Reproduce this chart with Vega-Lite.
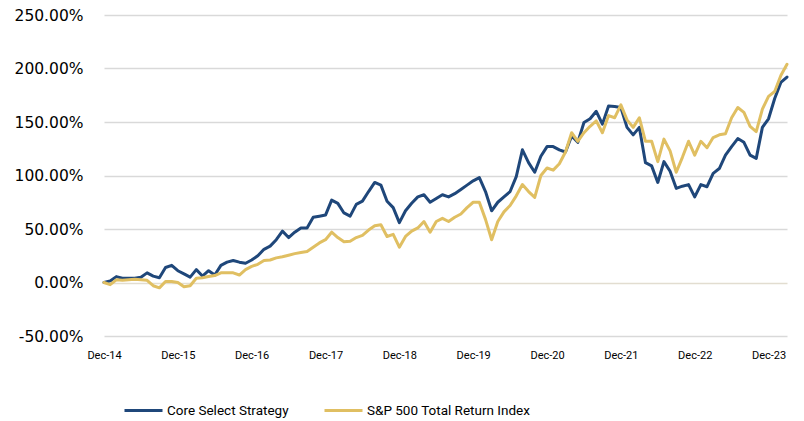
{
  "$schema": "https://vega.github.io/schema/vega-lite/v6.json",
  "width": 683,
  "height": 321,
  "autosize": {"type": "none"},
  "padding": {"left": 104, "top": 15, "right": 17, "bottom": 85},
  "background": "white",
  "config": {"view": {"stroke": null}},
  "data": {"values": [
    {"month": "Dec-14", "Core Select Strategy": 0, "S&P 500 Total Return Index": 0},
    {"month": "Jan-15", "Core Select Strategy": 1.5, "S&P 500 Total Return Index": -2},
    {"month": "Feb-15", "Core Select Strategy": 5.5, "S&P 500 Total Return Index": 2.5},
    {"month": "Mar-15", "Core Select Strategy": 4, "S&P 500 Total Return Index": 2},
    {"month": "Apr-15", "Core Select Strategy": 4, "S&P 500 Total Return Index": 2.5},
    {"month": "May-15", "Core Select Strategy": 4, "S&P 500 Total Return Index": 3},
    {"month": "Jun-15", "Core Select Strategy": 5, "S&P 500 Total Return Index": 2.5},
    {"month": "Jul-15", "Core Select Strategy": 9, "S&P 500 Total Return Index": 2},
    {"month": "Aug-15", "Core Select Strategy": 6, "S&P 500 Total Return Index": -3},
    {"month": "Sep-15", "Core Select Strategy": 4.5, "S&P 500 Total Return Index": -5},
    {"month": "Oct-15", "Core Select Strategy": 14, "S&P 500 Total Return Index": 1},
    {"month": "Nov-15", "Core Select Strategy": 16, "S&P 500 Total Return Index": 1},
    {"month": "Dec-15", "Core Select Strategy": 11, "S&P 500 Total Return Index": 0},
    {"month": "Jan-16", "Core Select Strategy": 8, "S&P 500 Total Return Index": -4},
    {"month": "Feb-16", "Core Select Strategy": 5, "S&P 500 Total Return Index": -3},
    {"month": "Mar-16", "Core Select Strategy": 12, "S&P 500 Total Return Index": 4},
    {"month": "Apr-16", "Core Select Strategy": 6, "S&P 500 Total Return Index": 4.5},
    {"month": "May-16", "Core Select Strategy": 11, "S&P 500 Total Return Index": 5.6},
    {"month": "Jun-16", "Core Select Strategy": 7, "S&P 500 Total Return Index": 6.5},
    {"month": "Jul-16", "Core Select Strategy": 16, "S&P 500 Total Return Index": 9},
    {"month": "Aug-16", "Core Select Strategy": 19, "S&P 500 Total Return Index": 9},
    {"month": "Sep-16", "Core Select Strategy": 20.5, "S&P 500 Total Return Index": 9},
    {"month": "Oct-16", "Core Select Strategy": 19, "S&P 500 Total Return Index": 7},
    {"month": "Nov-16", "Core Select Strategy": 18, "S&P 500 Total Return Index": 12},
    {"month": "Dec-16", "Core Select Strategy": 21, "S&P 500 Total Return Index": 15},
    {"month": "Jan-17", "Core Select Strategy": 25, "S&P 500 Total Return Index": 17},
    {"month": "Feb-17", "Core Select Strategy": 31, "S&P 500 Total Return Index": 20.5},
    {"month": "Mar-17", "Core Select Strategy": 34, "S&P 500 Total Return Index": 21},
    {"month": "Apr-17", "Core Select Strategy": 40, "S&P 500 Total Return Index": 23},
    {"month": "May-17", "Core Select Strategy": 48, "S&P 500 Total Return Index": 24},
    {"month": "Jun-17", "Core Select Strategy": 42, "S&P 500 Total Return Index": 25.5},
    {"month": "Jul-17", "Core Select Strategy": 47, "S&P 500 Total Return Index": 27},
    {"month": "Aug-17", "Core Select Strategy": 51, "S&P 500 Total Return Index": 28},
    {"month": "Sep-17", "Core Select Strategy": 51, "S&P 500 Total Return Index": 29},
    {"month": "Oct-17", "Core Select Strategy": 61, "S&P 500 Total Return Index": 33},
    {"month": "Nov-17", "Core Select Strategy": 62, "S&P 500 Total Return Index": 37},
    {"month": "Dec-17", "Core Select Strategy": 63, "S&P 500 Total Return Index": 40},
    {"month": "Jan-18", "Core Select Strategy": 77, "S&P 500 Total Return Index": 47},
    {"month": "Feb-18", "Core Select Strategy": 74, "S&P 500 Total Return Index": 42},
    {"month": "Mar-18", "Core Select Strategy": 65, "S&P 500 Total Return Index": 38},
    {"month": "Apr-18", "Core Select Strategy": 62, "S&P 500 Total Return Index": 38.5},
    {"month": "May-18", "Core Select Strategy": 73, "S&P 500 Total Return Index": 42},
    {"month": "Jun-18", "Core Select Strategy": 76, "S&P 500 Total Return Index": 44},
    {"month": "Jul-18", "Core Select Strategy": 85, "S&P 500 Total Return Index": 49},
    {"month": "Aug-18", "Core Select Strategy": 93.5, "S&P 500 Total Return Index": 53},
    {"month": "Sep-18", "Core Select Strategy": 91, "S&P 500 Total Return Index": 54},
    {"month": "Oct-18", "Core Select Strategy": 76, "S&P 500 Total Return Index": 43},
    {"month": "Nov-18", "Core Select Strategy": 70, "S&P 500 Total Return Index": 45},
    {"month": "Dec-18", "Core Select Strategy": 56, "S&P 500 Total Return Index": 33},
    {"month": "Jan-19", "Core Select Strategy": 67, "S&P 500 Total Return Index": 43},
    {"month": "Feb-19", "Core Select Strategy": 74, "S&P 500 Total Return Index": 48},
    {"month": "Mar-19", "Core Select Strategy": 80, "S&P 500 Total Return Index": 51},
    {"month": "Apr-19", "Core Select Strategy": 82, "S&P 500 Total Return Index": 57},
    {"month": "May-19", "Core Select Strategy": 75, "S&P 500 Total Return Index": 47},
    {"month": "Jun-19", "Core Select Strategy": 78.5, "S&P 500 Total Return Index": 57},
    {"month": "Jul-19", "Core Select Strategy": 82, "S&P 500 Total Return Index": 60},
    {"month": "Aug-19", "Core Select Strategy": 80, "S&P 500 Total Return Index": 57},
    {"month": "Sep-19", "Core Select Strategy": 83, "S&P 500 Total Return Index": 61},
    {"month": "Oct-19", "Core Select Strategy": 87, "S&P 500 Total Return Index": 64},
    {"month": "Nov-19", "Core Select Strategy": 91, "S&P 500 Total Return Index": 70},
    {"month": "Dec-19", "Core Select Strategy": 95, "S&P 500 Total Return Index": 75},
    {"month": "Jan-20", "Core Select Strategy": 98, "S&P 500 Total Return Index": 75},
    {"month": "Feb-20", "Core Select Strategy": 85, "S&P 500 Total Return Index": 59},
    {"month": "Mar-20", "Core Select Strategy": 67, "S&P 500 Total Return Index": 40},
    {"month": "Apr-20", "Core Select Strategy": 75, "S&P 500 Total Return Index": 57},
    {"month": "May-20", "Core Select Strategy": 80, "S&P 500 Total Return Index": 66},
    {"month": "Jun-20", "Core Select Strategy": 85, "S&P 500 Total Return Index": 72},
    {"month": "Jul-20", "Core Select Strategy": 99, "S&P 500 Total Return Index": 81},
    {"month": "Aug-20", "Core Select Strategy": 124, "S&P 500 Total Return Index": 91.5},
    {"month": "Sep-20", "Core Select Strategy": 112, "S&P 500 Total Return Index": 85},
    {"month": "Oct-20", "Core Select Strategy": 103, "S&P 500 Total Return Index": 79.5},
    {"month": "Nov-20", "Core Select Strategy": 118, "S&P 500 Total Return Index": 100},
    {"month": "Dec-20", "Core Select Strategy": 127, "S&P 500 Total Return Index": 107},
    {"month": "Jan-21", "Core Select Strategy": 127, "S&P 500 Total Return Index": 105},
    {"month": "Feb-21", "Core Select Strategy": 124, "S&P 500 Total Return Index": 111},
    {"month": "Mar-21", "Core Select Strategy": 122, "S&P 500 Total Return Index": 122},
    {"month": "Apr-21", "Core Select Strategy": 137, "S&P 500 Total Return Index": 140},
    {"month": "May-21", "Core Select Strategy": 131, "S&P 500 Total Return Index": 132},
    {"month": "Jun-21", "Core Select Strategy": 149.5, "S&P 500 Total Return Index": 140},
    {"month": "Jul-21", "Core Select Strategy": 153, "S&P 500 Total Return Index": 146},
    {"month": "Aug-21", "Core Select Strategy": 160, "S&P 500 Total Return Index": 151},
    {"month": "Sep-21", "Core Select Strategy": 148, "S&P 500 Total Return Index": 140},
    {"month": "Oct-21", "Core Select Strategy": 165, "S&P 500 Total Return Index": 156},
    {"month": "Nov-21", "Core Select Strategy": 164.5, "S&P 500 Total Return Index": 154},
    {"month": "Dec-21", "Core Select Strategy": 163.5, "S&P 500 Total Return Index": 166},
    {"month": "Jan-22", "Core Select Strategy": 145, "S&P 500 Total Return Index": 152},
    {"month": "Feb-22", "Core Select Strategy": 138, "S&P 500 Total Return Index": 145},
    {"month": "Mar-22", "Core Select Strategy": 145, "S&P 500 Total Return Index": 154},
    {"month": "Apr-22", "Core Select Strategy": 112, "S&P 500 Total Return Index": 132},
    {"month": "May-22", "Core Select Strategy": 109, "S&P 500 Total Return Index": 132},
    {"month": "Jun-22", "Core Select Strategy": 93.5, "S&P 500 Total Return Index": 113},
    {"month": "Jul-22", "Core Select Strategy": 113, "S&P 500 Total Return Index": 134},
    {"month": "Aug-22", "Core Select Strategy": 104, "S&P 500 Total Return Index": 123},
    {"month": "Sep-22", "Core Select Strategy": 88, "S&P 500 Total Return Index": 103},
    {"month": "Oct-22", "Core Select Strategy": 90, "S&P 500 Total Return Index": 117},
    {"month": "Nov-22", "Core Select Strategy": 91.5, "S&P 500 Total Return Index": 132},
    {"month": "Dec-22", "Core Select Strategy": 80, "S&P 500 Total Return Index": 119},
    {"month": "Jan-23", "Core Select Strategy": 91.5, "S&P 500 Total Return Index": 132},
    {"month": "Feb-23", "Core Select Strategy": 89.5, "S&P 500 Total Return Index": 126},
    {"month": "Mar-23", "Core Select Strategy": 102, "S&P 500 Total Return Index": 135.5},
    {"month": "Apr-23", "Core Select Strategy": 106.5, "S&P 500 Total Return Index": 138},
    {"month": "May-23", "Core Select Strategy": 119, "S&P 500 Total Return Index": 139},
    {"month": "Jun-23", "Core Select Strategy": 127, "S&P 500 Total Return Index": 154},
    {"month": "Jul-23", "Core Select Strategy": 134.5, "S&P 500 Total Return Index": 163.5},
    {"month": "Aug-23", "Core Select Strategy": 131, "S&P 500 Total Return Index": 159},
    {"month": "Sep-23", "Core Select Strategy": 119, "S&P 500 Total Return Index": 146},
    {"month": "Oct-23", "Core Select Strategy": 116, "S&P 500 Total Return Index": 141},
    {"month": "Nov-23", "Core Select Strategy": 145, "S&P 500 Total Return Index": 162},
    {"month": "Dec-23", "Core Select Strategy": 153, "S&P 500 Total Return Index": 174},
    {"month": "Jan-24", "Core Select Strategy": 172, "S&P 500 Total Return Index": 178.5},
    {"month": "Feb-24", "Core Select Strategy": 187, "S&P 500 Total Return Index": 193.5},
    {"month": "Mar-24", "Core Select Strategy": 192, "S&P 500 Total Return Index": 204}
  ]},
  "transform": [
    {"fold": ["Core Select Strategy", "S&P 500 Total Return Index"], "as": ["series", "value"]}
  ],
  "mark": {"type": "line", "strokeWidth": 3, "strokeJoin": "round", "strokeCap": "round"},
  "encoding": {
    "x": {
      "field": "month",
      "type": "ordinal",
      "sort": null,
      "scale": {"type": "point", "padding": 0},
      "axis": {
        "title": null,
        "values": ["Dec-14", "Dec-15", "Dec-16", "Dec-17", "Dec-18", "Dec-19", "Dec-20", "Dec-21", "Dec-22", "Dec-23"],
        "domain": false,
        "ticks": false,
        "tickSize": 0,
        "grid": false,
        "labelAngle": 0,
        "labelPadding": 13,
        "labelFont": "Roboto",
        "labelFontSize": 11,
        "labelColor": "#000000",
        "labelOverlap": false,
        "labelBound": false,
        "labelFlush": false
      }
    },
    "y": {
      "field": "value",
      "type": "quantitative",
      "scale": {"domain": [-50, 250], "nice": false, "zero": false},
      "axis": {
        "title": null,
        "values": [-50, 0, 50, 100, 150, 200, 250],
        "labelExpr": "(datum.value < 0 ? '-' : '') + format(abs(datum.value), '.2f') + '%'",
        "domain": false,
        "ticks": false,
        "tickSize": 0,
        "labelPadding": 21,
        "labelFont": "DejaVu Sans",
        "labelFontSize": 15.5,
        "labelColor": "#000000",
        "gridColor": {"condition": {"test": "datum.value === 0", "value": "#e2ddd0"}, "value": "#d9d9d9"},
        "gridWidth": 1.5
      }
    },
    "color": {
      "field": "series",
      "type": "nominal",
      "scale": {
        "domain": ["Core Select Strategy", "S&P 500 Total Return Index"],
        "range": ["#1f477a", "#e0bf62"]
      },
      "legend": {
        "title": null,
        "orient": "none",
        "legendX": 19,
        "legendY": 375,
        "direction": "horizontal",
        "symbolType": "stroke",
        "symbolSize": 1444,
        "symbolStrokeWidth": 3,
        "labelFont": "Roboto",
        "labelFontSize": 13.5,
        "labelColor": "#000000",
        "labelOffset": 3,
        "columnPadding": 29,
        "labelLimit": 400
      }
    }
  }
}
